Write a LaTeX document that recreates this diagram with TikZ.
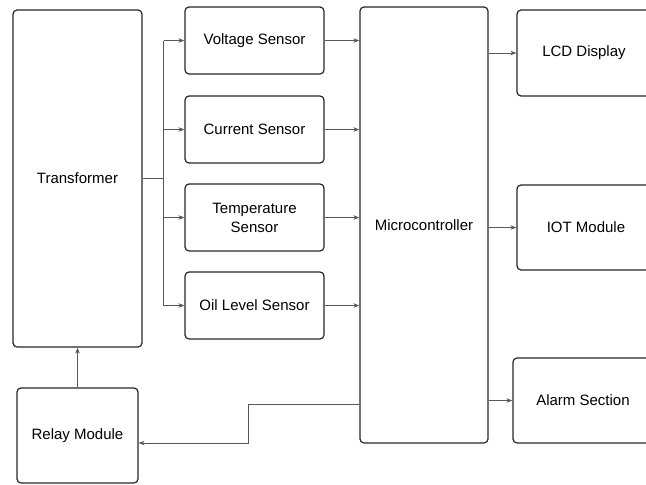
\documentclass[tikz,border=0pt]{standalone}
\usepackage{fontspec}
\setmainfont{Liberation Sans}
\usetikzlibrary{arrows.meta}
\usetikzlibrary{positioning}

\begin{document}
\begin{tikzpicture}[x=1pt,y=-1pt]
 \useasboundingbox (0,0) rectangle (646,485);
 \clip (0,0) rectangle (646,485);

\tikzstyle{block}=[draw=black!85,line width=1.2pt,rounded corners=4pt,align=center,font=\fontsize{15}{19}\selectfont,inner sep=0pt]
\tikzstyle{wire}=[draw=black!65,line width=0.9pt]
\tikzstyle{arr}=[wire,-{Stealth[length=6pt,width=4.5pt,fill=black]}]

   % left column
   \node (trafo) [block,minimum width=129pt,minimum height=337pt] at (77.5,178.5) {Transformer};
   \node (relay) [block,minimum width=121pt,minimum height=95pt] at (77.5,435.5) {Relay Module};

   % sensors
   \node (volt) [block,minimum width=139pt,minimum height=67pt] at (254.5,40.5) {Voltage Sensor};
   \node (curr) [block,minimum width=139pt,minimum height=67pt] at (254.5,129.5) {Current Sensor};
   \node (temp) [block,minimum width=139pt,minimum height=67pt] at (254.5,217.5) {Temperature\\Sensor};
   \node (oil) [block,minimum width=139pt,minimum height=67pt] at (254.5,305.5) {Oil Level Sensor};

   \node (mcu) [block,minimum width=128pt,minimum height=436pt] at (424,225) {Microcontroller};

   % outputs (cut off at the right edge)
   \node (lcd) [block,minimum width=134pt,minimum height=86pt] at (584,53) {LCD Display};
   \node (iot) [block,minimum width=138pt,minimum height=85pt] at (586,227.5) {IOT Module};
   \node (alarm) [block,minimum width=140pt,minimum height=85pt] at (583,400.5) {Alarm Section};

   % transformer to the sensor bus
   \draw[wire] (trafo.east) -- ++(21,0) coordinate (bus);
   \draw[wire] (bus |- volt.west) -- (bus |- oil.west);
   \foreach \s in {volt,curr,temp,oil}
   {
     \draw[arr] (bus |- \s.west) -- (\s.west);
     \draw[arr] (\s.east) -- (\s.east -| mcu.west);
   }

   \foreach \o in {lcd,iot,alarm}
     \draw[arr] (mcu.east |- \o.west) -- (\o.west);

   % relay loop
   \coordinate (bend) at (248,404);
   \draw[arr] (mcu.west |- bend) -- (bend) |- ([yshift=-7.5pt]relay.east);
   \draw[arr] (relay.north) -- (trafo.south);

\end{tikzpicture}
\end{document}
